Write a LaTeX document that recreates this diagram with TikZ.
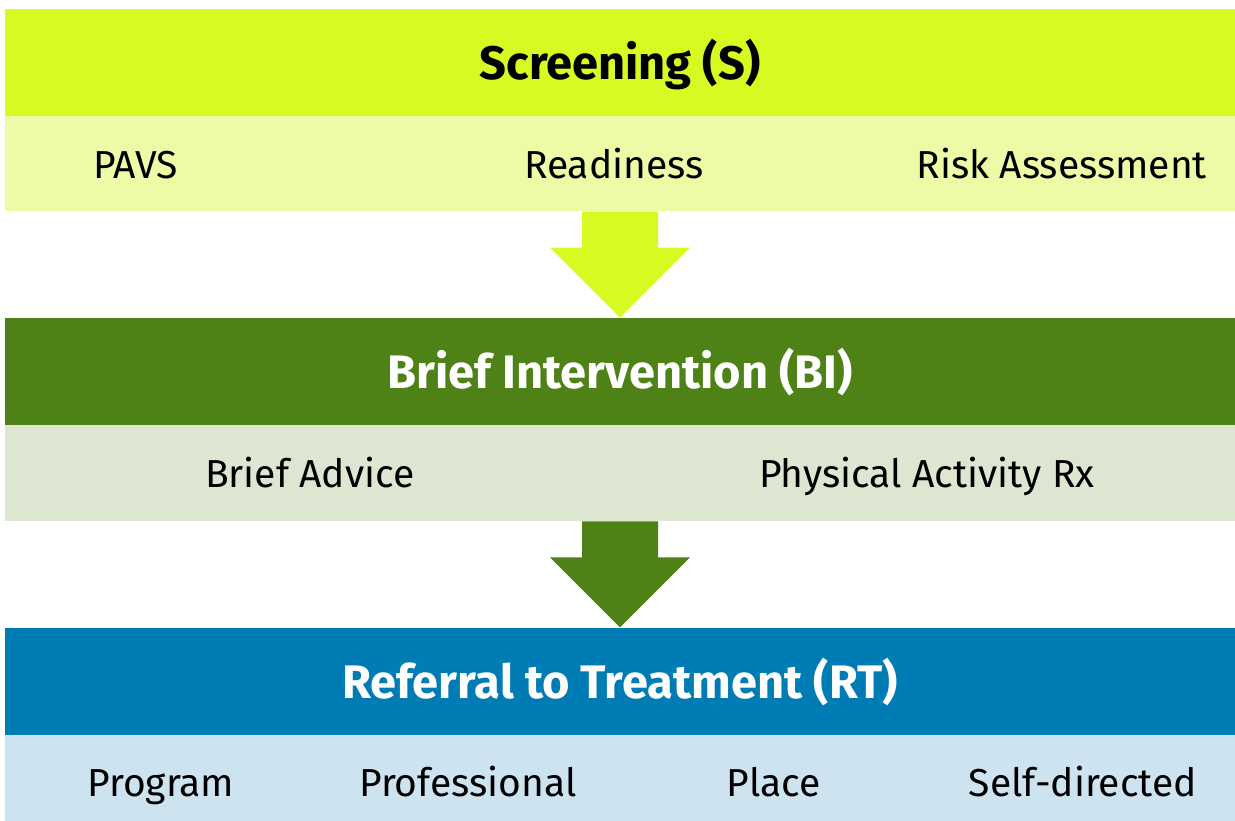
\documentclass[tikz,border=0pt]{standalone}
\usepackage{fontspec}
\setmainfont{Fira Sans}
\usetikzlibrary{positioning}
\usetikzlibrary{calc}

\definecolor{slime}{HTML}{D7FA22}
\definecolor{slimelight}{HTML}{EEFBA6}
\definecolor{bigreen}{HTML}{4E8116}
\definecolor{bigreenlight}{HTML}{DCE6D1}
\definecolor{rtblue}{HTML}{007CB4}
\definecolor{rtbluelight}{HTML}{CDE4F0}

\begin{document}
\begin{tikzpicture}
		[x=1pt, y=-1pt,
		 head/.style={rectangle, inner sep=0pt, minimum width=1230pt, minimum height=107pt,
		   text height=35pt, text depth=0pt, font=\fontsize{47}{52}\selectfont\bfseries},
		 band/.style={rectangle, inner sep=0pt, minimum width=1230pt, minimum height=96pt},
		 item/.style={anchor=base, inner sep=0pt, font=\fontsize{39}{47}\selectfont}]
		\useasboundingbox (0,0) rectangle (1235,821);

		% the three stages
		\node[head, fill=slime] (shead) at (620,62.5) {Screening (S)};
		\node[band, fill=slimelight, minimum height=95pt, below=0pt of shead] (ssub) {};
		\node[head, fill=bigreen, text=white, below=106pt of ssub] (bihead) {Brief Intervention (BI)};
		\node[band, fill=bigreenlight, below=0pt of bihead] (bisub) {};
		\node[head, fill=rtblue, text=white, below=106pt of bisub] (rthead) {Referral to Treatment (RT)};
		\node[band, fill=rtbluelight, below=0pt of rthead] (rtsub) {};

		% items
		\foreach \x/\t [count=\i] in {131/PAVS, 609/Readiness, 1057/Risk Assessment}
			\node[item] (sitem\i) at ($(ssub.north west)+(\x,62)$) {\t};
		\foreach \x/\t [count=\i] in {305/Brief Advice, 922/Physical Activity Rx}
			\node[item] (biitem\i) at ($(bisub.north west)+(\x,62)$) {\t};
		\foreach \x/\t [count=\i] in {156/Program, 463/Professional, 769/Place, 1078/Self-directed}
			\node[item] (rtitem\i) at ($(rtsub.north west)+(\x,62)$) {\t};

		% arrows between stages
		\foreach \a/\b/\c in {ssub/bihead/slime, bisub/rthead/bigreen}
			\fill[\c] ($(\a.south)+(-38,0)$) -- ($(\a.south)+(38,0)$) -- ($(\a.south)+(38,36)$)
				-- ($(\a.south)+(70,36)$) -- (\b.north) -- ($(\a.south)+(-70,36)$)
				-- ($(\a.south)+(-38,36)$) -- cycle;
	\end{tikzpicture}
\end{document}
